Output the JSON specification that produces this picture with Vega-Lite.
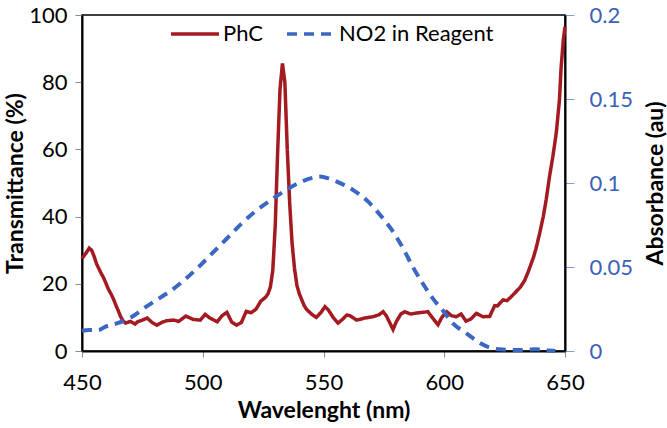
{
  "$schema": "https://vega.github.io/schema/vega-lite/v6.json",
  "autosize": {"type": "none"},
  "padding": {"left": 82, "top": 15, "right": 102, "bottom": 77},
  "width": 483,
  "height": 336,
  "background": "white",
  "config": {
    "font": "Lato",
    "view": {"stroke": "#000000", "strokeWidth": 1.5},
    "axis": {
      "labelFont": "Lato", "labelFontSize": 22, "labelColor": "#000000",
      "titleFont": "Lato", "titleFontSize": 23, "titleFontWeight": "bold", "titleColor": "#000000",
      "domainColor": "#000000", "domainWidth": 2, "grid": false,
      "tickColor": "#8c8c8c", "tickWidth": 1
    }
  },
  "data": {"values": [
    {"s":"PhC","wl":450,"v":27.5},{"s":"PhC","wl":451,"v":28.5},{"s":"PhC","wl":452,"v":29.5},{"s":"PhC","wl":453,"v":30.6},{"s":"PhC","wl":454,"v":30.0},{"s":"PhC","wl":455,"v":28.2},{"s":"PhC","wl":456,"v":26.0},{"s":"PhC","wl":457,"v":24.5},{"s":"PhC","wl":458,"v":23.0},{"s":"PhC","wl":459,"v":21.7},{"s":"PhC","wl":460,"v":20.0},{"s":"PhC","wl":461,"v":18.3},{"s":"PhC","wl":462,"v":17.0},{"s":"PhC","wl":463,"v":15.5},{"s":"PhC","wl":464,"v":13.7},{"s":"PhC","wl":465,"v":12.0},{"s":"PhC","wl":466,"v":10.2},{"s":"PhC","wl":467,"v":9.0},{"s":"PhC","wl":468,"v":8.3},{"s":"PhC","wl":470,"v":8.8},{"s":"PhC","wl":472,"v":8.0},{"s":"PhC","wl":473,"v":8.7},{"s":"PhC","wl":475,"v":9.2},{"s":"PhC","wl":477,"v":9.8},{"s":"PhC","wl":479,"v":8.5},{"s":"PhC","wl":481,"v":7.7},{"s":"PhC","wl":483,"v":8.5},{"s":"PhC","wl":485,"v":9.0},{"s":"PhC","wl":488,"v":9.2},{"s":"PhC","wl":490,"v":8.8},{"s":"PhC","wl":493,"v":10.4},{"s":"PhC","wl":496,"v":9.4},{"s":"PhC","wl":499,"v":9.2},{"s":"PhC","wl":501,"v":10.9},{"s":"PhC","wl":503,"v":9.8},{"s":"PhC","wl":506,"v":8.7},{"s":"PhC","wl":508,"v":10.5},{"s":"PhC","wl":510,"v":11.5},{"s":"PhC","wl":512,"v":8.6},{"s":"PhC","wl":514,"v":7.7},{"s":"PhC","wl":516,"v":8.5},{"s":"PhC","wl":518,"v":11.8},{"s":"PhC","wl":520,"v":11.4},{"s":"PhC","wl":522,"v":12.4},{"s":"PhC","wl":524,"v":14.8},{"s":"PhC","wl":526,"v":16.0},{"s":"PhC","wl":527,"v":17.0},{"s":"PhC","wl":528,"v":19.0},{"s":"PhC","wl":529,"v":24.0},{"s":"PhC","wl":530,"v":37.0},{"s":"PhC","wl":531,"v":59.0},{"s":"PhC","wl":532,"v":78.0},{"s":"PhC","wl":533,"v":85.6},{"s":"PhC","wl":534,"v":80.0},{"s":"PhC","wl":535,"v":60.0},{"s":"PhC","wl":536,"v":44.0},{"s":"PhC","wl":537,"v":32.0},{"s":"PhC","wl":538,"v":24.5},{"s":"PhC","wl":539,"v":19.5},{"s":"PhC","wl":540,"v":17.0},{"s":"PhC","wl":542,"v":13.5},{"s":"PhC","wl":543,"v":12.4},{"s":"PhC","wl":545,"v":11.0},{"s":"PhC","wl":547,"v":10.0},{"s":"PhC","wl":549,"v":11.5},{"s":"PhC","wl":550.6,"v":13.2},{"s":"PhC","wl":552,"v":12.2},{"s":"PhC","wl":554,"v":10.0},{"s":"PhC","wl":556,"v":8.3},{"s":"PhC","wl":558,"v":9.5},{"s":"PhC","wl":559.6,"v":10.7},{"s":"PhC","wl":561,"v":10.5},{"s":"PhC","wl":563.7,"v":9.2},{"s":"PhC","wl":565,"v":9.4},{"s":"PhC","wl":567,"v":9.8},{"s":"PhC","wl":570.5,"v":10.2},{"s":"PhC","wl":573,"v":10.8},{"s":"PhC","wl":574.7,"v":11.7},{"s":"PhC","wl":576,"v":10.5},{"s":"PhC","wl":578.8,"v":6.4},{"s":"PhC","wl":580,"v":8.5},{"s":"PhC","wl":582,"v":11.0},{"s":"PhC","wl":583.7,"v":11.7},{"s":"PhC","wl":586,"v":11.0},{"s":"PhC","wl":588.5,"v":11.3},{"s":"PhC","wl":591,"v":11.5},{"s":"PhC","wl":593.2,"v":11.7},{"s":"PhC","wl":595,"v":10.0},{"s":"PhC","wl":597.4,"v":7.8},{"s":"PhC","wl":599,"v":10.0},{"s":"PhC","wl":601,"v":11.7},{"s":"PhC","wl":603,"v":10.5},{"s":"PhC","wl":605,"v":10.2},{"s":"PhC","wl":607,"v":11.0},{"s":"PhC","wl":609,"v":8.9},{"s":"PhC","wl":611,"v":9.5},{"s":"PhC","wl":613.3,"v":11.2},{"s":"PhC","wl":616,"v":10.2},{"s":"PhC","wl":618.8,"v":10.3},{"s":"PhC","wl":620.9,"v":13.5},{"s":"PhC","wl":622,"v":13.4},{"s":"PhC","wl":624.3,"v":15.2},{"s":"PhC","wl":626,"v":15.0},{"s":"PhC","wl":627.8,"v":16.2},{"s":"PhC","wl":629.8,"v":17.7},{"s":"PhC","wl":631.5,"v":19.0},{"s":"PhC","wl":633.3,"v":21.0},{"s":"PhC","wl":635,"v":24.0},{"s":"PhC","wl":636,"v":26.0},{"s":"PhC","wl":637,"v":28.0},{"s":"PhC","wl":638,"v":30.5},{"s":"PhC","wl":639.5,"v":35.0},{"s":"PhC","wl":641,"v":40.0},{"s":"PhC","wl":642.2,"v":45.0},{"s":"PhC","wl":643.6,"v":52.0},{"s":"PhC","wl":645,"v":58.0},{"s":"PhC","wl":646.4,"v":65.0},{"s":"PhC","wl":647.7,"v":74.7},{"s":"PhC","wl":648.4,"v":84.5},{"s":"PhC","wl":649.3,"v":92.6},{"s":"PhC","wl":650,"v":96.5},
    {"s":"NO2 in Reagent","wl":450,"v":0.012},{"s":"NO2 in Reagent","wl":453,"v":0.0125},{"s":"NO2 in Reagent","wl":456.8,"v":0.0125},{"s":"NO2 in Reagent","wl":459.7,"v":0.0145},{"s":"NO2 in Reagent","wl":465,"v":0.0167},{"s":"NO2 in Reagent","wl":470.7,"v":0.0204},{"s":"NO2 in Reagent","wl":476,"v":0.0258},{"s":"NO2 in Reagent","wl":482.4,"v":0.0318},{"s":"NO2 in Reagent","wl":488.6,"v":0.0378},{"s":"NO2 in Reagent","wl":492.8,"v":0.0428},{"s":"NO2 in Reagent","wl":499,"v":0.051},{"s":"NO2 in Reagent","wl":504.5,"v":0.059},{"s":"NO2 in Reagent","wl":510.7,"v":0.068},{"s":"NO2 in Reagent","wl":516.2,"v":0.076},{"s":"NO2 in Reagent","wl":521.7,"v":0.083},{"s":"NO2 in Reagent","wl":527.9,"v":0.0895},{"s":"NO2 in Reagent","wl":533.4,"v":0.0948},{"s":"NO2 in Reagent","wl":539,"v":0.0995},{"s":"NO2 in Reagent","wl":545.8,"v":0.1032},{"s":"NO2 in Reagent","wl":548.5,"v":0.1038},{"s":"NO2 in Reagent","wl":552,"v":0.1028},{"s":"NO2 in Reagent","wl":555.5,"v":0.1008},{"s":"NO2 in Reagent","wl":562.3,"v":0.0958},{"s":"NO2 in Reagent","wl":568.5,"v":0.0889},{"s":"NO2 in Reagent","wl":574,"v":0.08},{"s":"NO2 in Reagent","wl":578.8,"v":0.071},{"s":"NO2 in Reagent","wl":583,"v":0.061},{"s":"NO2 in Reagent","wl":587,"v":0.05},{"s":"NO2 in Reagent","wl":591.2,"v":0.04},{"s":"NO2 in Reagent","wl":595.4,"v":0.031},{"s":"NO2 in Reagent","wl":599.5,"v":0.024},{"s":"NO2 in Reagent","wl":603.6,"v":0.0165},{"s":"NO2 in Reagent","wl":609.2,"v":0.0105},{"s":"NO2 in Reagent","wl":614.7,"v":0.0048},{"s":"NO2 in Reagent","wl":619,"v":0.002},{"s":"NO2 in Reagent","wl":623,"v":0.001},{"s":"NO2 in Reagent","wl":631,"v":0.0006},{"s":"NO2 in Reagent","wl":638,"v":0.001},{"s":"NO2 in Reagent","wl":643.6,"v":0.0003},{"s":"NO2 in Reagent","wl":646,"v":0.0}
  ]},
  "encoding": {
    "x": {"field": "wl", "type": "quantitative",
      "scale": {"domain": [450, 650], "nice": false, "zero": false},
      "axis": {"title": "Wavelenght (nm)", "values": [450, 500, 550, 600, 650], "tickSize": 6, "labelPadding": 15, "titlePadding": 6, "labelFlush": false}},
    "color": {"field": "s", "type": "nominal",
      "scale": {"domain": ["PhC", "NO2 in Reagent"], "range": ["#a31b20", "#3a66c4"]},
      "legend": {"title": null, "orient": "none", "legendX": 87, "legendY": -7, "direction": "horizontal",
        "symbolType": "stroke", "symbolSize": 2304, "symbolStrokeWidth": 3.5,
        "labelFont": "Lato", "labelFontSize": 22, "labelColor": "#000000", "labelOffset": 2, "columnPadding": 17, "padding": 0}},
    "strokeDash": {"field": "s", "type": "nominal",
      "scale": {"domain": ["PhC", "NO2 in Reagent"], "range": [[1, 0], [10, 7]]},
      "legend": {"title": null, "orient": "none", "legendX": 87, "legendY": -7, "direction": "horizontal",
        "symbolType": "stroke", "symbolSize": 2304, "symbolStrokeWidth": 3.5,
        "labelFont": "Lato", "labelFontSize": 22, "labelColor": "#000000", "labelOffset": 2, "columnPadding": 17, "padding": 0}}
  },
  "layer": [
    {
      "transform": [{"filter": "datum.s === 'PhC'"}],
      "mark": {"type": "line", "strokeWidth": 3.5, "interpolate": "linear"},
      "encoding": {
        "y": {"field": "v", "type": "quantitative",
          "scale": {"domain": [0, 100], "nice": false},
          "axis": {"title": "Transmittance (%)", "values": [0, 20, 40, 60, 80, 100], "tickSize": 7, "labelPadding": 8, "titlePadding": 1}}
      }
    },
    {
      "transform": [{"filter": "datum.s === 'NO2 in Reagent'"}],
      "mark": {"type": "line", "strokeWidth": 4, "interpolate": "monotone"},
      "encoding": {
        "y": {"field": "v", "type": "quantitative",
          "scale": {"domain": [0, 0.2], "nice": false},
          "axis": {"orient": "right", "title": "Absorbance (au)", "values": [0, 0.05, 0.1, 0.15, 0.2], "format": "~g",
            "labelColor": "#3a62b8", "tickColor": "#7f9fd6", "tickSize": 9, "labelPadding": 15,
            "titleAngle": 270, "titleBaseline": "top", "titlePadding": 12}}
      }
    }
  ],
  "resolve": {"scale": {"y": "independent"}}
}
